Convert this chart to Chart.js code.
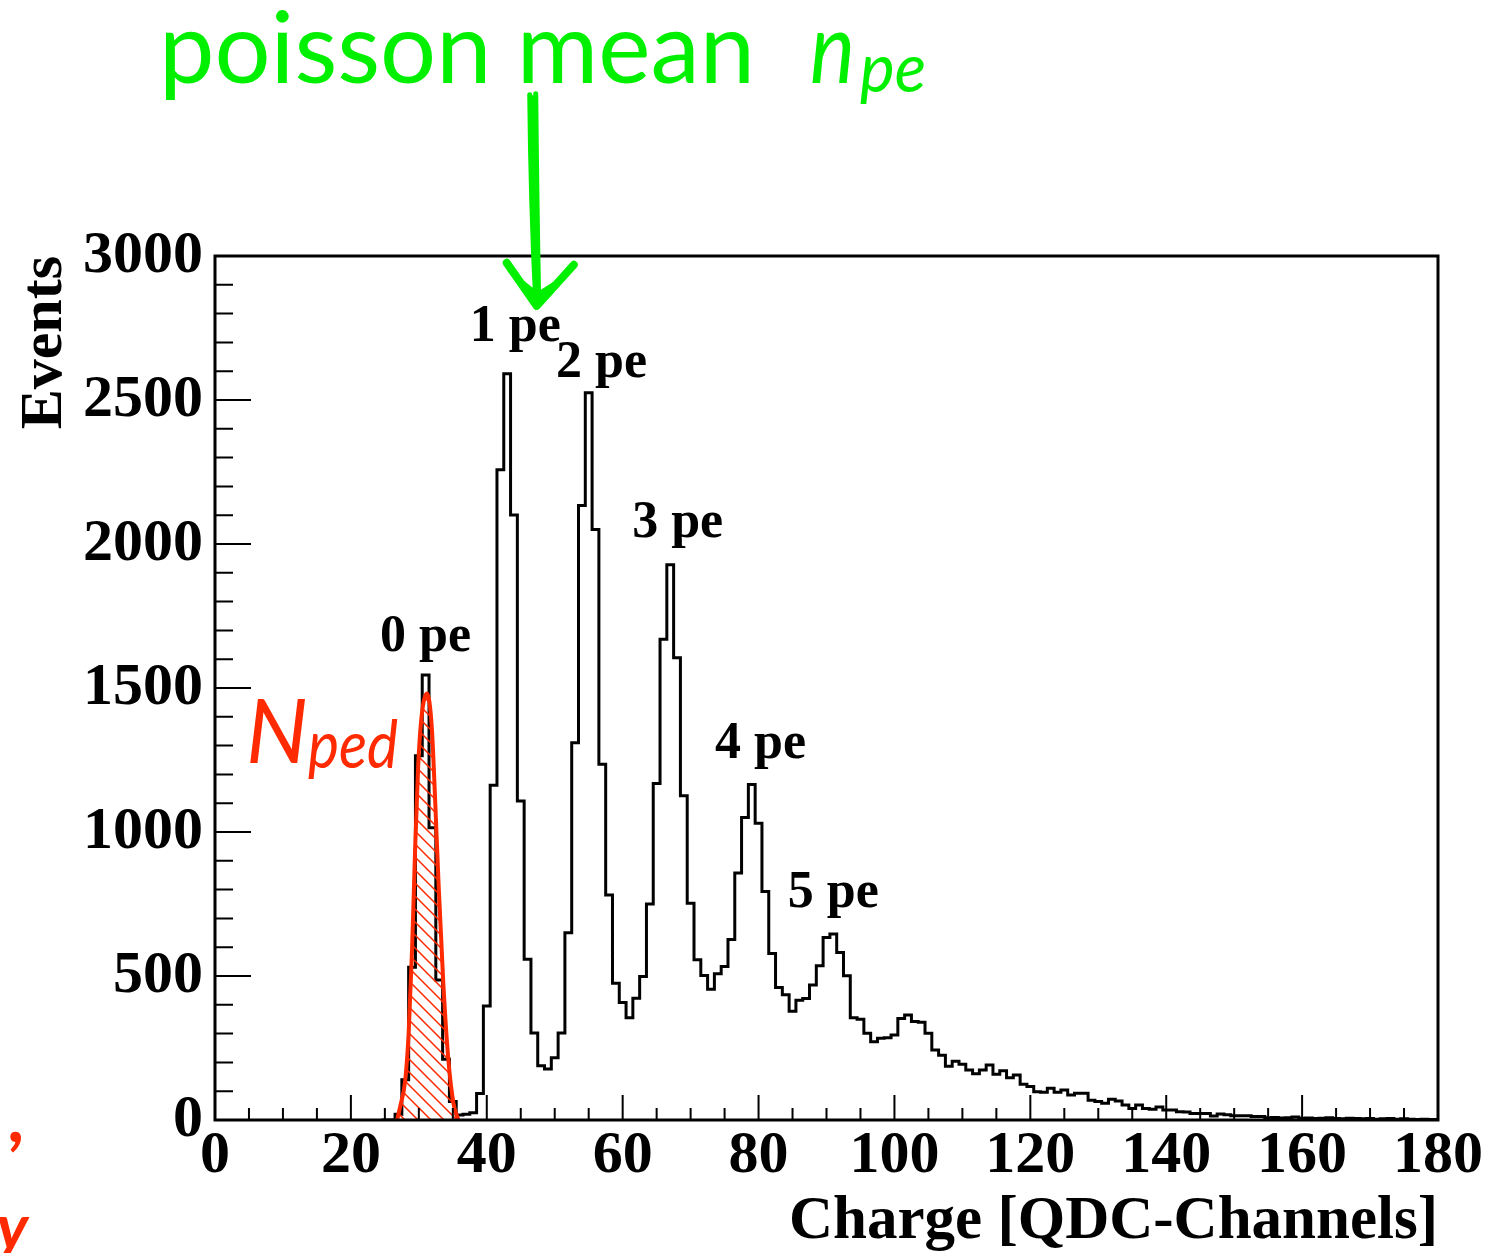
<!DOCTYPE html>
<html>
<head>
<meta charset="utf-8">
<title>QDC charge spectrum</title>
<script src="https://cdn.jsdelivr.net/npm/chart.js@4.4.1/dist/chart.umd.min.js"></script>
<style>
  html, body { margin: 0; padding: 0; background: #fff; }
  #wrap { width: 1487px; height: 1253px; }
</style>
</head>
<body>
<div id="wrap"><canvas id="qdc" width="1487" height="1253"></canvas></div>
<script>
// charge spectrum, 1-channel bins, first bin centred on channel 25
const firstBin = 25;
const events = [
  0, 0, 20, 140, 530, 1265, 1545, 1015, 486, 211,           // 25-34
  64, 17, 20, 25, 92, 396, 1162, 2258, 2591, 2101,           // 35-44
  1108, 558, 302, 188, 177, 216, 302, 650, 1310, 2134,       // 45-54
  2525, 2050, 1235, 781, 475, 408, 355, 423, 498, 750,       // 55-64
  1168, 1669, 1928, 1605, 1126, 753, 556, 502, 454, 508,     // 65-74
  533, 627, 858, 1050, 1165, 1030, 793, 578, 460, 435,       // 75-84
  378, 416, 422, 469, 536, 634, 646, 582, 501, 355,          // 85-94
  350, 301, 272, 284, 286, 295, 352, 365, 342, 339,          // 95-104
  301, 243, 225, 187, 204, 194, 174, 161, 174, 191,          // 105-114
  159, 171, 147, 156, 124, 116, 98, 96, 110, 96,             // 115-124
  104, 87, 93, 93, 69, 64, 58, 72, 66, 52,                   // 125-134
  40, 52, 40, 37, 45, 35, 35, 29, 28, 23,                    // 135-144
  23, 23, 14, 21, 18, 15, 15, 15, 12, 12,                    // 145-154
  8, 9, 7, 8, 10, 6, 7, 5, 6, 8,                             // 155-164
  5, 4, 6, 5, 4, 5, 3, 4, 5, 3,                              // 165-174
  4, 3, 2, 3, 2                                              // 175-179
];

// pedestal fit curve (channel, events)
const pedCharge = [26.8, 27.25, 28.0, 28.5, 29.0, 29.45, 29.9, 30.4, 31.2, 31.9, 32.4, 32.9, 33.6, 34.35, 35.1, 35.8];
const pedEvents = [0, 46, 139, 301, 590, 937, 1227, 1400, 1481, 1366, 1111, 822, 475, 208, 58, 0];

const xTickValues = [0, 20, 40, 60, 80, 100, 120, 140, 160, 180];
const yTickValues = [0, 500, 1000, 1500, 2000, 2500, 3000];

// peak labels: text, channel, events (left edge / baseline)
const peakNames = ['0 pe', '1 pe', '2 pe', '3 pe', '4 pe', '5 pe'];
const peakLabelX = [24.3, 37.5, 50.2, 61.4, 73.6, 84.3];
const peakLabelY = [1628, 2705, 2580, 2024, 1257, 740];

// step outline: one point per left bin edge, plus the closing edge
const histPoints = events.map((v, i) => ({ x: firstBin + i - 0.5, y: v }));
histPoints.push({ x: 180, y: events[events.length - 1] });

const pedPoints = pedCharge.map((c, i) => ({ x: c, y: pedEvents[i] }));

const canvas = document.getElementById('qdc');
const ctx0 = canvas.getContext('2d');

function hatch(color) {
  const c = document.createElement('canvas');
  c.width = 13; c.height = 13;
  const g = c.getContext('2d');
  g.strokeStyle = color;
  g.lineWidth = 1.5;
  g.beginPath();
  g.moveTo(-1, -1); g.lineTo(14, 14);
  g.moveTo(-1, 12); g.lineTo(1, 14);
  g.moveTo(12, -1); g.lineTo(14, 1);
  g.stroke();
  return ctx0.createPattern(c, 'repeat');
}

const RED = '#ff2a00';
const GREEN = '#00f000';
const serif = 'Liberation Serif';

const decorations = {
  id: 'decorations',
  afterDatasetsDraw(chart) {
    const { ctx, chartArea: a, scales: { x, y } } = chart;
    ctx.save();
    // ticks inside the frame
    ctx.strokeStyle = '#000';
    ctx.lineWidth = 2;
    ctx.beginPath();
    for (let v = 0; v <= 3000; v += 100) {
      const py = y.getPixelForValue(v);
      const len = v % 500 === 0 ? 36 : 18;
      ctx.moveTo(a.left, py);
      ctx.lineTo(a.left + len, py);
    }
    for (let v = 0; v <= 180; v += 5) {
      const px = x.getPixelForValue(v);
      const len = v % 20 === 0 ? 25 : 12;
      ctx.moveTo(px, a.bottom);
      ctx.lineTo(px, a.bottom - len);
    }
    ctx.stroke();
    ctx.lineWidth = 3;
    ctx.strokeRect(a.left, a.top, a.right - a.left, a.bottom - a.top);
    ctx.restore();
  },
  afterDraw(chart) {
    const { ctx, scales: { x, y } } = chart;
    ctx.save();

    // peak labels
    ctx.fillStyle = '#000';
    ctx.font = 'bold 52px "' + serif + '"';
    ctx.textAlign = 'left';
    ctx.textBaseline = 'alphabetic';
    peakNames.forEach((t, i) => {
      ctx.fillText(t, x.getPixelForValue(peakLabelX[i]), y.getPixelForValue(peakLabelY[i]));
    });

    // heading
    ctx.fillStyle = GREEN;
    ctx.font = '99px Lato';
    ctx.fillText('poisson mean', 159, 83, 600);
    ctx.font = 'italic 99px Lato';
    ctx.fillText('n', 810, 83, 45);
    ctx.font = 'italic 67px Lato';
    ctx.fillText('pe', 860, 92, 66);

    // hand drawn arrow towards the 1 pe peak
    const ax = x.getPixelForValue(47.5);
    const top = y.getPixelForValue(3560);
    const tip = y.getPixelForValue(2820);
    ctx.strokeStyle = GREEN;
    ctx.lineCap = 'round';
    ctx.lineJoin = 'round';
    ctx.lineWidth = 5;
    [[-4, 0], [-1, 3], [2, -1], [0, 6]].forEach(([dx, dy]) => {
      ctx.beginPath();
      ctx.moveTo(ax - 4 + dx, top + dy);
      ctx.quadraticCurveTo(ax - 3 + dx, (top + tip) / 2, ax + dx * 0.5, tip - 6);
      ctx.stroke();
    });
    ctx.lineWidth = 8;
    ctx.beginPath();
    ctx.moveTo(ax - 31, tip - 45);
    ctx.lineTo(ax - 1, tip - 2);
    ctx.lineTo(ax + 36, tip - 43);
    ctx.stroke();
    ctx.lineWidth = 5;
    ctx.beginPath();
    ctx.moveTo(ax - 28, tip - 38);
    ctx.lineTo(ax + 1, tip - 6);
    ctx.lineTo(ax + 32, tip - 38);
    ctx.stroke();
    ctx.fillStyle = GREEN;
    ctx.beginPath();
    ctx.moveTo(ax - 20, tip - 32);
    ctx.lineTo(ax, tip - 2);
    ctx.lineTo(ax + 22, tip - 30);
    ctx.lineTo(ax, tip - 16);
    ctx.closePath();
    ctx.fill();

    // pedestal label
    ctx.fillStyle = RED;
    ctx.font = 'italic 90px Lato';
    ctx.fillText('N', 246, 763, 62);
    ctx.font = 'italic 65px Lato';
    ctx.fillText('ped', 308, 768, 90);

    // fragments of neighbouring slide text
    ctx.textAlign = 'right';
    ctx.font = 'bold 72px Lato';
    ctx.fillText(',', 24, 1142);
    ctx.font = 'italic bold 64px Lato';
    ctx.fillText('y', 28, 1250);

    ctx.restore();
  }
};

new Chart(canvas, {
  type: 'line',
  data: {
    datasets: [
      {
        label: 'pedestal',
        data: pedPoints,
        borderColor: RED,
        borderWidth: 4,
        backgroundColor: hatch(RED),
        fill: 'origin',
        cubicInterpolationMode: 'monotone',
        pointRadius: 0,
        order: 0
      },
      {
        label: 'events',
        data: histPoints,
        borderColor: '#000',
        borderWidth: 3,
        stepped: true,
        fill: false,
        pointRadius: 0,
        order: 1
      }
    ]
  },
  options: {
    responsive: false,
    animation: false,
    devicePixelRatio: 1,
    events: [],
    layout: { padding: { top: 256, right: 49, left: 0, bottom: 0 } },
    plugins: {
      legend: { display: false },
      tooltip: { enabled: false }
    },
    scales: {
      x: {
        type: 'linear',
        min: 0,
        max: 180,
        afterBuildTicks: s => { s.ticks = xTickValues.map(v => ({ value: v })); },
        afterFit: s => { s.height = 133; },
        grid: { display: false, drawTicks: false },
        border: { display: false },
        ticks: {
          autoSkip: false,
          maxRotation: 0,
          padding: 0,
          color: '#000',
          font: { family: serif, weight: 'bold', size: 60 },
          callback: v => String(v)
        },
        title: {
          display: true,
          text: 'Charge [QDC-Channels]',
          align: 'end',
          color: '#000',
          padding: { top: 0, bottom: 0 },
          font: { family: serif, weight: 'bold', size: 61, lineHeight: 1 }
        }
      },
      y: {
        type: 'linear',
        min: 0,
        max: 3000,
        afterBuildTicks: s => { s.ticks = yTickValues.map(v => ({ value: v })); },
        afterFit: s => { s.width = 215; },
        grid: { display: false, drawTicks: false },
        border: { display: false },
        ticks: {
          autoSkip: false,
          padding: 12,
          color: '#000',
          font: { family: serif, weight: 'bold', size: 60 },
          callback: v => String(v)
        },
        title: {
          display: true,
          text: 'Events',
          align: 'end',
          color: '#000',
          padding: { top: 15, bottom: 0 },
          font: { family: serif, weight: 'bold', size: 60, lineHeight: 1 }
        }
      }
    }
  },
  plugins: [decorations]
});
</script>
</body>
</html>
